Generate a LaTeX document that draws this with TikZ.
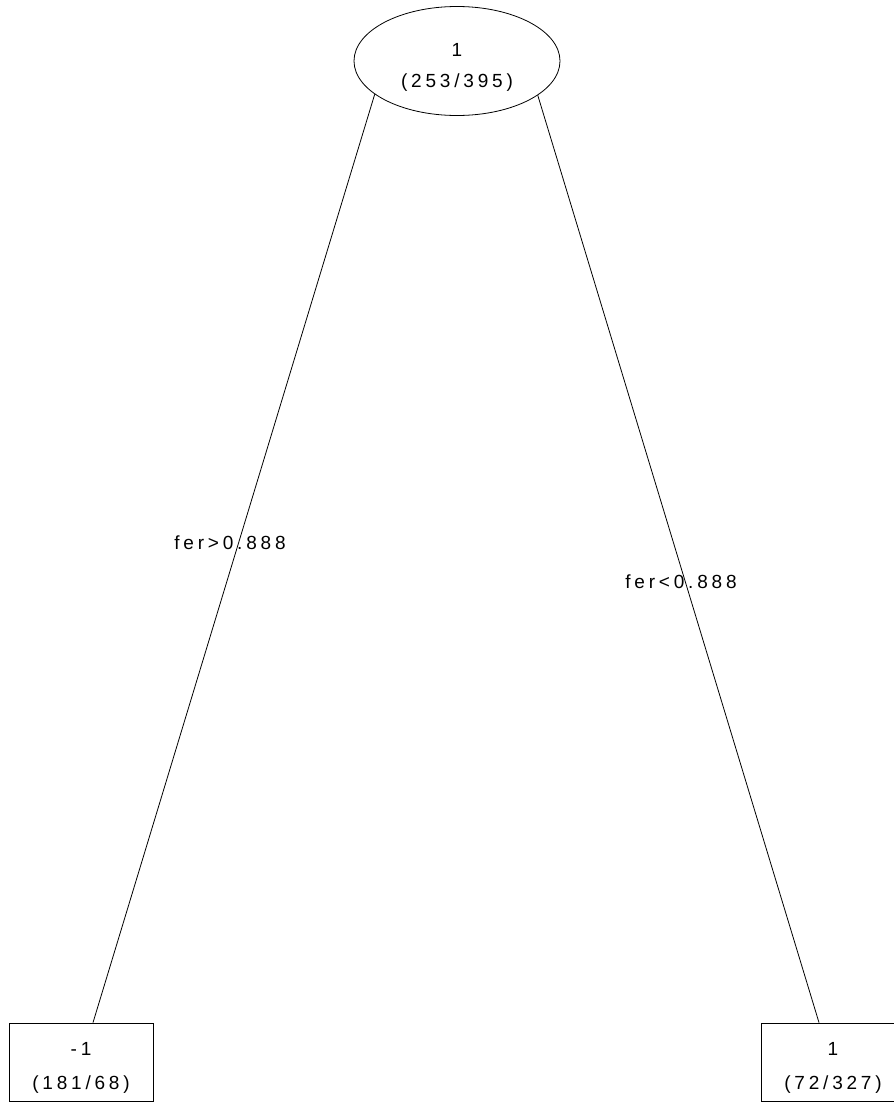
\documentclass[tikz,border=0pt]{standalone}
\usepackage{fontspec}
\setmainfont{Liberation Sans}[LetterSpace=20]
\usetikzlibrary{shapes.geometric,calc}
% two centred lines, each placed by its own baseline shift, in a box of no size
\newcommand{\twolines}[4]{\raisebox{0pt}[0pt][0pt]{\makebox[0pt]{\raisebox{#3}{#1}}\makebox[0pt]{\raisebox{#4}{#2}}}}
\begin{document}
\begin{tikzpicture}[x=1pt,y=-1pt,
  every node/.style={font=\fontsize{19}{21}\selectfont},
  split/.style={draw, ellipse, line width=0.8pt, minimum width=206pt, minimum height=109pt, inner sep=0pt},
  leaf/.style={draw, rectangle, line width=0.8pt, minimum width=144pt, minimum height=78pt, inner sep=0pt},
  edge/.style={line width=0.8pt},
  elabel/.style={inner sep=0pt}
]
\useasboundingbox (0,0) rectangle (894,1103);
\node[split] (root) at (457,61) {\twolines{1}{(253/395)}{4.2pt}{-26.8pt}};
\node[leaf] (lbox) at (81,1062) {\twolines{-1}{(181/68)}{6.2pt}{-27.8pt}};
\node[leaf] (rbox) at (833,1062) {\twolines{1}{(72/327)}{6.2pt}{-27.8pt}};
\draw[edge] (root.202.4) -- ([xshift=12pt]lbox.north);
\draw[edge] (root.337.6) -- ([xshift=-14pt]rbox.north);
\node[elabel] (l1) at (230,543) {fer>0.888};
\node[elabel] (l2) at (681,582) {fer<0.888};
\end{tikzpicture}
\end{document}
